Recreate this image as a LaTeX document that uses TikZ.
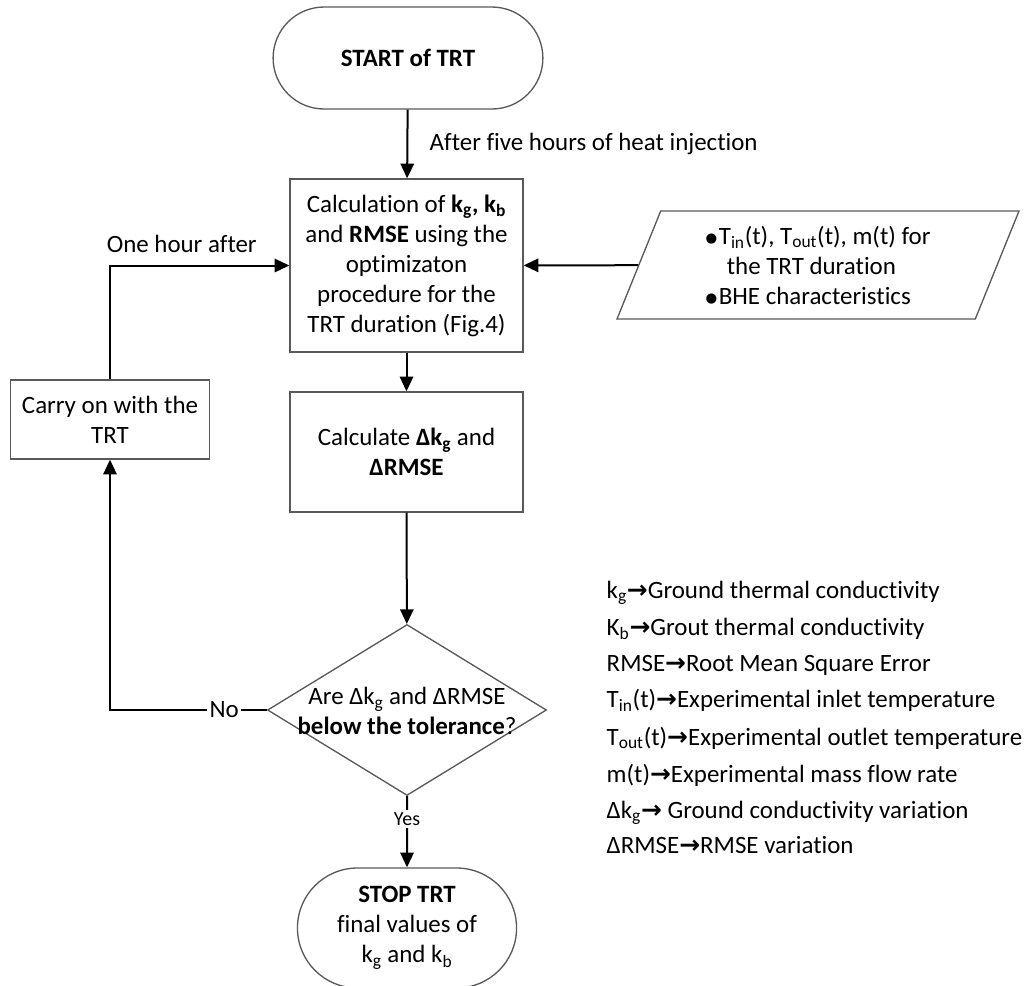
\documentclass[tikz,border=0pt]{standalone}
\usepackage{fontspec}
\setmainfont[Ligatures=NoCommon]{Carlito}
\newfontfamily\symfont{DejaVu Sans}
\usetikzlibrary{shapes.geometric,shapes.misc,arrows.meta}

\definecolor{linegray}{HTML}{595959}
\newcommand{\legarrow}{{\symfont\bfseries →}}
\newcommand{\bul}{\makebox[10pt][l]{\raisebox{1.5pt}{\symfont\fontsize{10}{10}\selectfont ●}}}

\begin{document}
\begin{tikzpicture}[x=75pt,y=75pt,font=\fontsize{18.7}{22.5}\selectfont]
\useasboundingbox (0,0) rectangle (10.33,-9.86);

\begin{scope}[every node/.style={align=center,text=black},
              box/.style={draw=linegray,line width=1pt,rectangle},
              term/.style={draw=linegray,line width=1pt,rounded rectangle},
              decision/.style={draw=linegray,line width=1pt,diamond,inner sep=0pt,
                               minimum width=209.25pt,minimum height=128.25pt},
              io/.style={draw=linegray,line width=1pt,trapezium,
                         trapezium left angle=63.4,trapezium right angle=116.6,
                         trapezium stretches body,
                         minimum width=301.5pt,minimum height=81pt}]

    \node[term,minimum width=209pt,minimum height=76.5pt] (start) at (4.08,-0.58)
        {\textbf{START of TRT}};

    \node[box,minimum width=174.75pt,minimum height=129.75pt] (calc) at (4.065,-2.655)
        {Calculation of \textbf{k\textsubscript{g}, k\textsubscript{b}}\\
         and \textbf{RMSE} using the\\ optimizaton\\ procedure for the\\
         TRT duration (Fig.4)};

    \node[io,align=left] (in) at (8.18,-2.65)
        {\bul T\textsubscript{in}(t), T\textsubscript{out}(t), m(t) for\\
         \hspace*{16pt}the TRT duration\\
         \bul BHE characteristics};

    \node[box,minimum width=174.75pt,minimum height=90pt] (calcd) at (4.065,-4.52)
        {Calculate \textbf{Δk\textsubscript{g}} and\\ \textbf{ΔRMSE}};

    \node[box,minimum width=149.25pt,minimum height=59.25pt] (carry) at (1.10,-4.195)
        {Carry on with the\\ TRT};

    \node[decision] (dec) at (4.07,-7.10) {};
    \node (dectxt) at (4.07,-7.11)
        {Are Δk\textsubscript{g} and ΔRMSE\\ \textbf{below the tolerance}?};

    \node[term,minimum width=171pt,minimum height=90pt] (stop) at (4.07,-9.28)
        {\textbf{STOP TRT}\\ final values of\\ k\textsubscript{g} and k\textsubscript{b}};

    % legend
    \node[anchor=base west] (l1) at (6.02,-5.98) {k\textsubscript{g}\legarrow Ground thermal conductivity};
    \node[anchor=base west] (l2) at (6.02,-6.35) {K\textsubscript{b}\legarrow Grout thermal conductivity};
    \node[anchor=base west] (l3) at (6.02,-6.71) {RMSE\legarrow Root Mean Square Error};
    \node[anchor=base west] (l4) at (6.02,-7.07) {T\textsubscript{in}(t)\legarrow Experimental inlet temperature};
    \node[anchor=base west] (l5) at (6.02,-7.45) {T\textsubscript{out}(t)\legarrow Experimental outlet temperature};
    \node[anchor=base west] (l6) at (6.02,-7.82) {m(t)\legarrow Experimental mass flow rate};
    \node[anchor=base west] (l7) at (6.02,-8.18) {Δk\textsubscript{g}\legarrow{} Ground conductivity variation};
    \node[anchor=base west] (l8) at (6.02,-8.53) {ΔRMSE\legarrow RMSE variation};

\end{scope}

\begin{scope} [every node/.style={fill=white,inner sep=2pt},
              every edge/.style={draw=black,line width=1.5pt},
              >={Triangle[length=11pt,width=10pt]}]

    \path[->] (start) edge node[fill=none,right,xshift=14pt] {After five hours of heat injection} (calc);
    \path[->] (in) edge (calc);
    \path[->] (calc) edge (calcd);
    \path[->] (calcd) edge (dec);
    \path[->] (dec) edge node[pos=0.32,font=\fontsize{15}{18}\selectfont] {Yes} (stop);
    \path[->] (dec) edge[to path={-| (\tikztotarget) \tikztonodes}]
        node[pos=0.136] {No} (carry);
    \path[->] (carry) edge[to path={|- (\tikztotarget) \tikztonodes}]
        node[fill=none,pos=0.7,above,yshift=7pt] {One hour after} (calc);

\end{scope}

\end{tikzpicture}
\end{document}
